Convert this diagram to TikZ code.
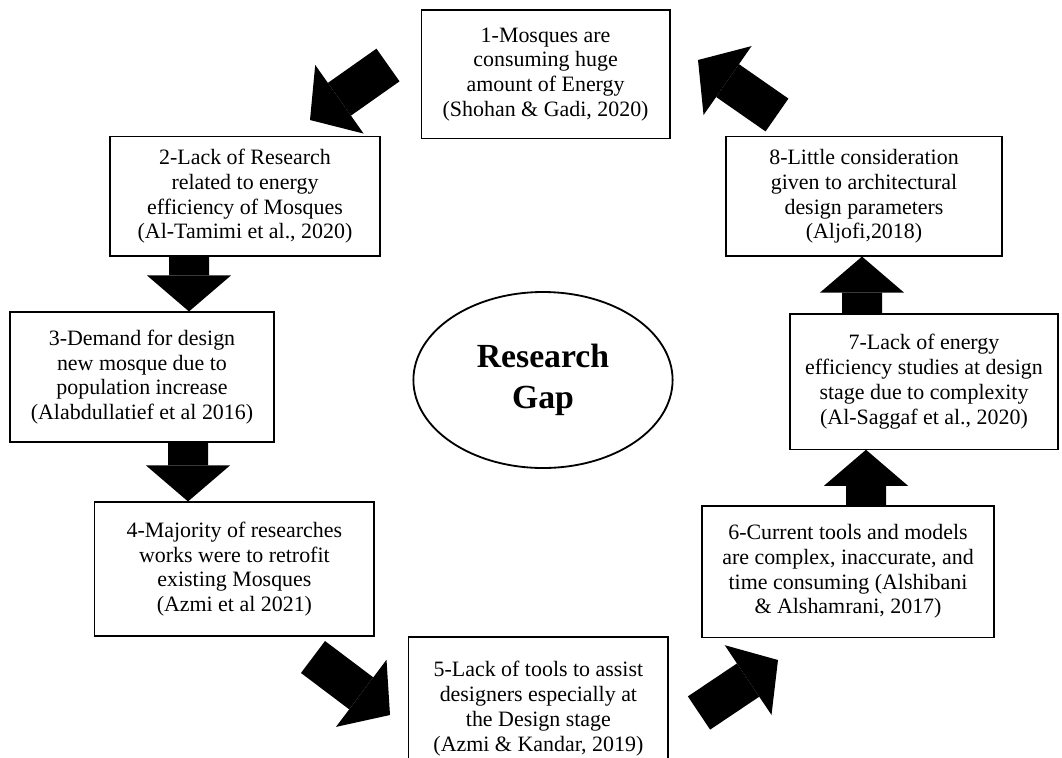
\documentclass[tikz,border=0pt]{standalone}
\usepackage{fontspec}
\setmainfont{Liberation Serif}
\usetikzlibrary{shapes.geometric, arrows.meta, positioning}

\begin{document}
\begin{tikzpicture}[
    gapbox/.style={rectangle, draw=black, line width=0.8pt, fill=white,
                   minimum width=#1, align=center, inner sep=2pt,
                   font=\fontsize{15.6}{17.6}\selectfont},
    gapcore/.style={ellipse, draw=black, line width=1.3pt, fill=white,
                    minimum width=6.48cm, minimum height=4.4cm, inner sep=0pt,
                    align=center, font=\fontsize{24}{29.6}\selectfont\bfseries},
    bigarrow/.style={line width=1cm, draw=black,
                     -{Triangle[length=0.9cm, width=2.1cm, line width=0pt]}}
]
    \useasboundingbox (0,0) rectangle (26.55,-18.925);

    % Centre
    \node[gapcore] (gap) at (13.575,-9.5) {Research\\Gap};

    % Boxes
    \node[gapbox=6.22cm, minimum height=3.22cm] (b1) at (13.64,-1.86)
        {1-Mosques are\\consuming huge\\amount of Energy\\(Shohan \& Gadi, 2020)};
    \node[gapbox=6.75cm, minimum height=2.98cm] (b2) at (6.125,-4.91)
        {2-Lack of Research\\related to energy\\efficiency of Mosques\\(Al-Tamimi et al., 2020)};
    \node[gapbox=6.6cm, minimum height=3.25cm] (b3) at (3.55,-9.425)
        {3-Demand for design\\new mosque due to\\population increase\\(Alabdullatief et al 2016)};
    \node[gapbox=6.98cm, minimum height=3.35cm] (b4) at (5.86,-14.225)
        {4-Majority of researches\\works were to retrofit\\existing Mosques\\(Azmi et al 2021)};
    \node[gapbox=6.48cm, minimum height=3.58cm] (b5) at (13.46,-17.715)
        {5-Lack of tools to assist\\designers especially at\\the Design stage\\(Azmi \& Kandar, 2019)};
    \node[gapbox=7.3cm, minimum height=3.28cm] (b6) at (21.2,-14.29)
        {6-Current tools and models\\are complex, inaccurate, and\\time consuming (Alshibani\\\& Alshamrani, 2017)};
    \node[gapbox=6.7cm, minimum height=3.38cm] (b7) at (23.1,-9.54)
        {7-Lack of energy\\efficiency studies at design\\stage due to complexity\\(Al-Saggaf et al., 2020)};
    \node[gapbox=6.9cm, minimum height=2.98cm] (b8) at (21.6,-4.91)
        {8-Little consideration\\given to architectural\\design parameters\\(Aljofi,2018)};

    % Arrow ends between boxes
    \coordinate (a1s) at (9.7,-1.625);
    \coordinate (a1e) at (7.75,-3.0);
    \coordinate (a4s) at (7.825,-16.425);
    \coordinate (a4e) at (9.75,-17.875);
    \coordinate (a5s) at (17.475,-17.825);
    \coordinate (a5e) at (19.45,-16.5);
    \coordinate (a8s) at (19.425,-2.875);
    \coordinate (a8e) at (17.45,-1.5);

    % Arrows
    \draw[bigarrow] (a1s) -- (a1e);
    \draw[bigarrow] ([xshift=-1.4cm]b2.south) -- ([xshift=1.175cm]b3.north);
    \draw[bigarrow] ([xshift=1.15cm]b3.south) -- ([xshift=-1.16cm]b4.north);
    \draw[bigarrow] (a4s) -- (a4e);
    \draw[bigarrow] (a5s) -- (a5e);
    \draw[bigarrow] ([xshift=0.45cm]b6.north) -- ([xshift=-1.45cm]b7.south);
    \draw[bigarrow] ([xshift=-1.55cm]b7.north) -- ([xshift=-0.05cm]b8.south);
    \draw[bigarrow] (a8s) -- (a8e);
\end{tikzpicture}
\end{document}
